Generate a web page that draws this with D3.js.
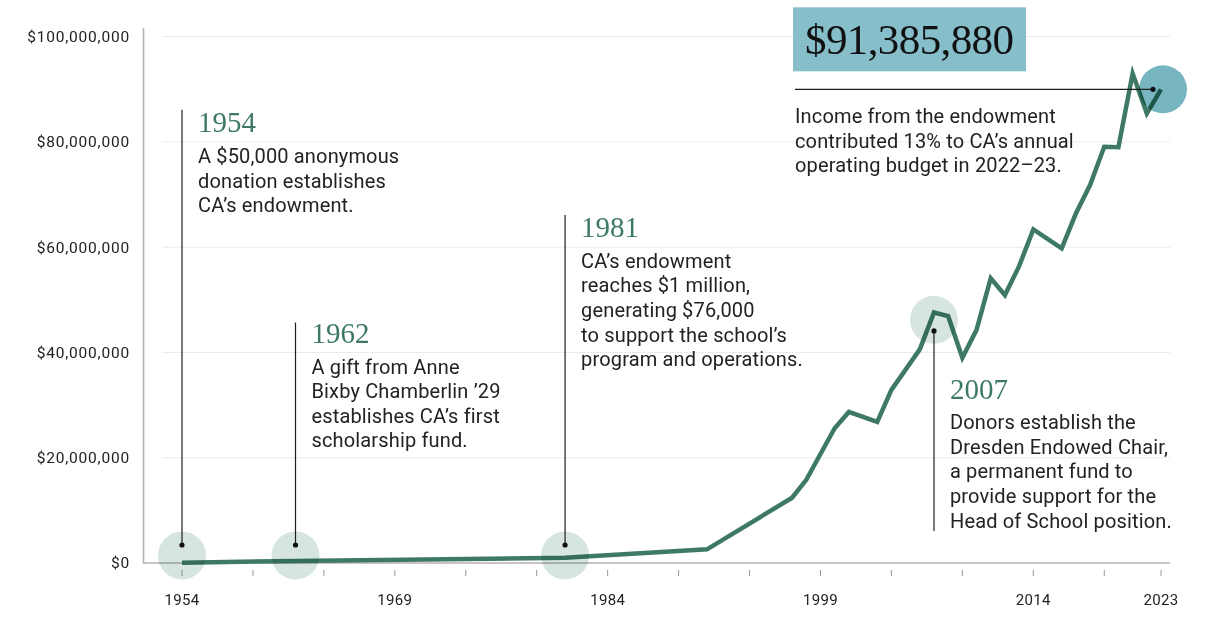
<!DOCTYPE html>
<html>
<head>
<meta charset="utf-8">
<title>CA endowment</title>
<script src="https://cdn.jsdelivr.net/npm/d3@7"></script>
<style>
	body{margin:0;background:#fff;}
	svg{display:block;}
	.grid{stroke:#ebebeb;stroke-width:1;}
	.axis-line{stroke:#b8b0ac;stroke-width:1.6;fill:none;}
	.tick{stroke:#9f9894;stroke-width:1;}
	.y-label{font-family:Roboto,sans-serif;font-size:15.5px;letter-spacing:0.8px;fill:#222;}
	.x-label{font-family:Roboto,sans-serif;font-size:15px;letter-spacing:0.3px;fill:#222;}
	.endow-line{fill:none;stroke:#3e7a63;stroke-width:4.5;stroke-linejoin:miter;}
	.note-line{stroke:#1e1e1e;stroke-width:1.2;}
	.note-dot{fill:#111;}
	.note-year{font-family:'Liberation Serif',serif;font-size:29px;fill:#3e7a63;}
	.note-text{font-family:Roboto,sans-serif;font-size:20px;letter-spacing:0.15px;fill:#222;}
	.halo{fill:#d6e5e1;mix-blend-mode:multiply;}
	.halo-big{fill:#77b5c1;mix-blend-mode:multiply;}
	.big-box{fill:#86bec9;}
	.big-num{font-family:'Liberation Serif',serif;font-size:43px;letter-spacing:-0.6px;fill:#111;}
</style>
</head>
<body>
<svg class="endow" width="1212" height="618"></svg>
<script>
// endowment market value, by year
var years = [1954, 1962, 1981, 1991, 1997, 1998, 2000, 2001, 2003, 2004, 2006, 2007, 2008, 2009, 2010,
	2011, 2012, 2013, 2014, 2016, 2017, 2018, 2019, 2020, 2021, 2022, 2023];
var endowment = [50000, 400000, 1000000, 2600000, 12400000, 15800000, 25600000, 28700000, 26800000,
	32900000, 40600000, 47600000, 46900000, 39000000, 44300000, 54100000, 50900000, 56400000,
	63400000, 59800000, 66400000, 71800000, 79100000, 79000000, 93000000, 85400000, 90000000];

var yTicks = [0, 20000000, 40000000, 60000000, 80000000, 100000000];
var xTickYears = [1954, 1959, 1964, 1969, 1974, 1979, 1984, 1989, 1994, 1999, 2004, 2009, 2014, 2019, 2023];
var xLabelYears = [1954, 1969, 1984, 1999, 2014, 2023];

var milestoneYears = [1954, 1962, 1981, 2007];
var milestoneTexts = [
	['A $50,000 anonymous', 'donation establishes', 'CA\u2019s endowment.'],
	['A gift from Anne', 'Bixby Chamberlin \u201929', 'establishes CA\u2019s first', 'scholarship fund.'],
	['CA\u2019s endowment', 'reaches $1 million,', 'generating $76,000', 'to support the school\u2019s', 'program and operations.'],
	['Donors establish the', 'Dresden Endowed Chair,', 'a permanent fund to', 'provide support for the', 'Head of School position.']
];
var headlineValue = '$91,385,880';
var headlineText = ['Income from the endowment', 'contributed 13% to CA\u2019s annual', 'operating budget in 2022\u201323.'];

(function(){
	var svg = d3.select('.endow');

	var x = d3.scaleLinear().domain([1954, 2023]).range([182, 1161]);
	var y = d3.scaleLinear().domain([0, 100000000]).range([563, 36.7]);

	// annotation placement, in data units (dollars) so it follows the scales
	var layout = [
		{ title: 81.8e6, top: 86.1e6, dot: 3.42e6, halo: 1.43e6, down: false },
		{ title: 41.8e6, top: 45.7e6, dot: 3.42e6, halo: 1.43e6, down: false },
		{ title: 61.9e6, top: 66.1e6, dot: 3.42e6, halo: 1.43e6, down: false },
		{ title: 31.2e6, top: 6.1e6, dot: 44.1e6, halo: 46.2e6, down: true }
	];

	var fmt = function(v){ return '$' + d3.format(',')(v); };

	var addLine = function(g, x1, y1, x2, y2, css){
		return g.append('line')
			.attr('x1', x1).attr('y1', y1)
			.attr('x2', x2).attr('y2', y2)
			.attr('class', css);
	};

	var addText = function(g, tx, ty, text, css, anchor){
		return g.append('text')
			.attr('x', tx).attr('y', ty)
			.attr('class', css)
			.attr('text-anchor', anchor || 'start')
			.text(text);
	};

	var addLines = function(g, tx, ty, lines, gap){
		lines.forEach(function(l, i){
			addText(g, tx, ty + i * gap, l, 'note-text');
		});
	};

	// grid + axes
	var gAxes = svg.append('g');
	yTicks.forEach(function(t){
		if(t > 0) addLine(gAxes, 162, y(t), 1170, y(t), 'grid');
		addText(gAxes, 130, y(t), fmt(t), 'y-label', 'end').attr('dy', '0.35em');
	});
	addLine(gAxes, 143.5, 28, 143.5, y(0), 'axis-line');
	addLine(gAxes, 143, y(0), 1170, y(0), 'axis-line');
	xTickYears.forEach(function(yr){
		addLine(gAxes, x(yr), y(0) + 7, x(yr), y(0) + 13, 'tick');
	});
	xLabelYears.forEach(function(yr){
		addText(gAxes, x(yr), 605, String(yr), 'x-label', 'middle');
	});

	// endowment line
	var line = d3.line()
		.x(function(d, i){ return x(years[i]); })
		.y(function(d){ return y(d); });
	svg.append('path').datum(endowment).attr('class', 'endow-line').attr('d', line);

	// milestones
	var gNotes = svg.append('g');
	milestoneYears.forEach(function(yr, i){
		var L = layout[i];
		var cx = x(yr);
		gNotes.append('circle').attr('class', 'halo').attr('cx', cx).attr('cy', y(L.halo)).attr('r', 24);
		addLine(gNotes, cx, y(L.top), cx, y(L.dot), 'note-line');
		gNotes.append('circle').attr('class', 'note-dot').attr('cx', cx).attr('cy', y(L.dot)).attr('r', 2.6);
		var tx = cx + 16;
		var ty = y(L.title);
		addText(gNotes, tx, ty, String(yr), 'note-year');
		addLines(gNotes, tx, ty + 30.5, milestoneTexts[i], 24.6);
	});

	// 2023 headline
	var gHead = svg.append('g');
	var last = years.length - 1;
	var hx = x(years[last]) + 2;
	var hy = y(endowment[last]);
	var dotX = hx - 10;
	var left = 795;
	gHead.append('circle').attr('class', 'halo-big').attr('cx', hx).attr('cy', hy).attr('r', 24);
	addLine(gHead, left, hy, dotX, hy, 'note-line');
	gHead.append('circle').attr('class', 'note-dot').attr('cx', dotX).attr('cy', hy).attr('r', 2.6);
	gHead.append('rect').attr('class', 'big-box')
		.attr('x', left - 2).attr('y', hy - 82).attr('width', 233).attr('height', 64);
	addText(gHead, left + 10, hy - 35, headlineValue, 'big-num');
	addLines(gHead, left, hy + 34, headlineText, 24.4);
})();
</script>
</body>
</html>
